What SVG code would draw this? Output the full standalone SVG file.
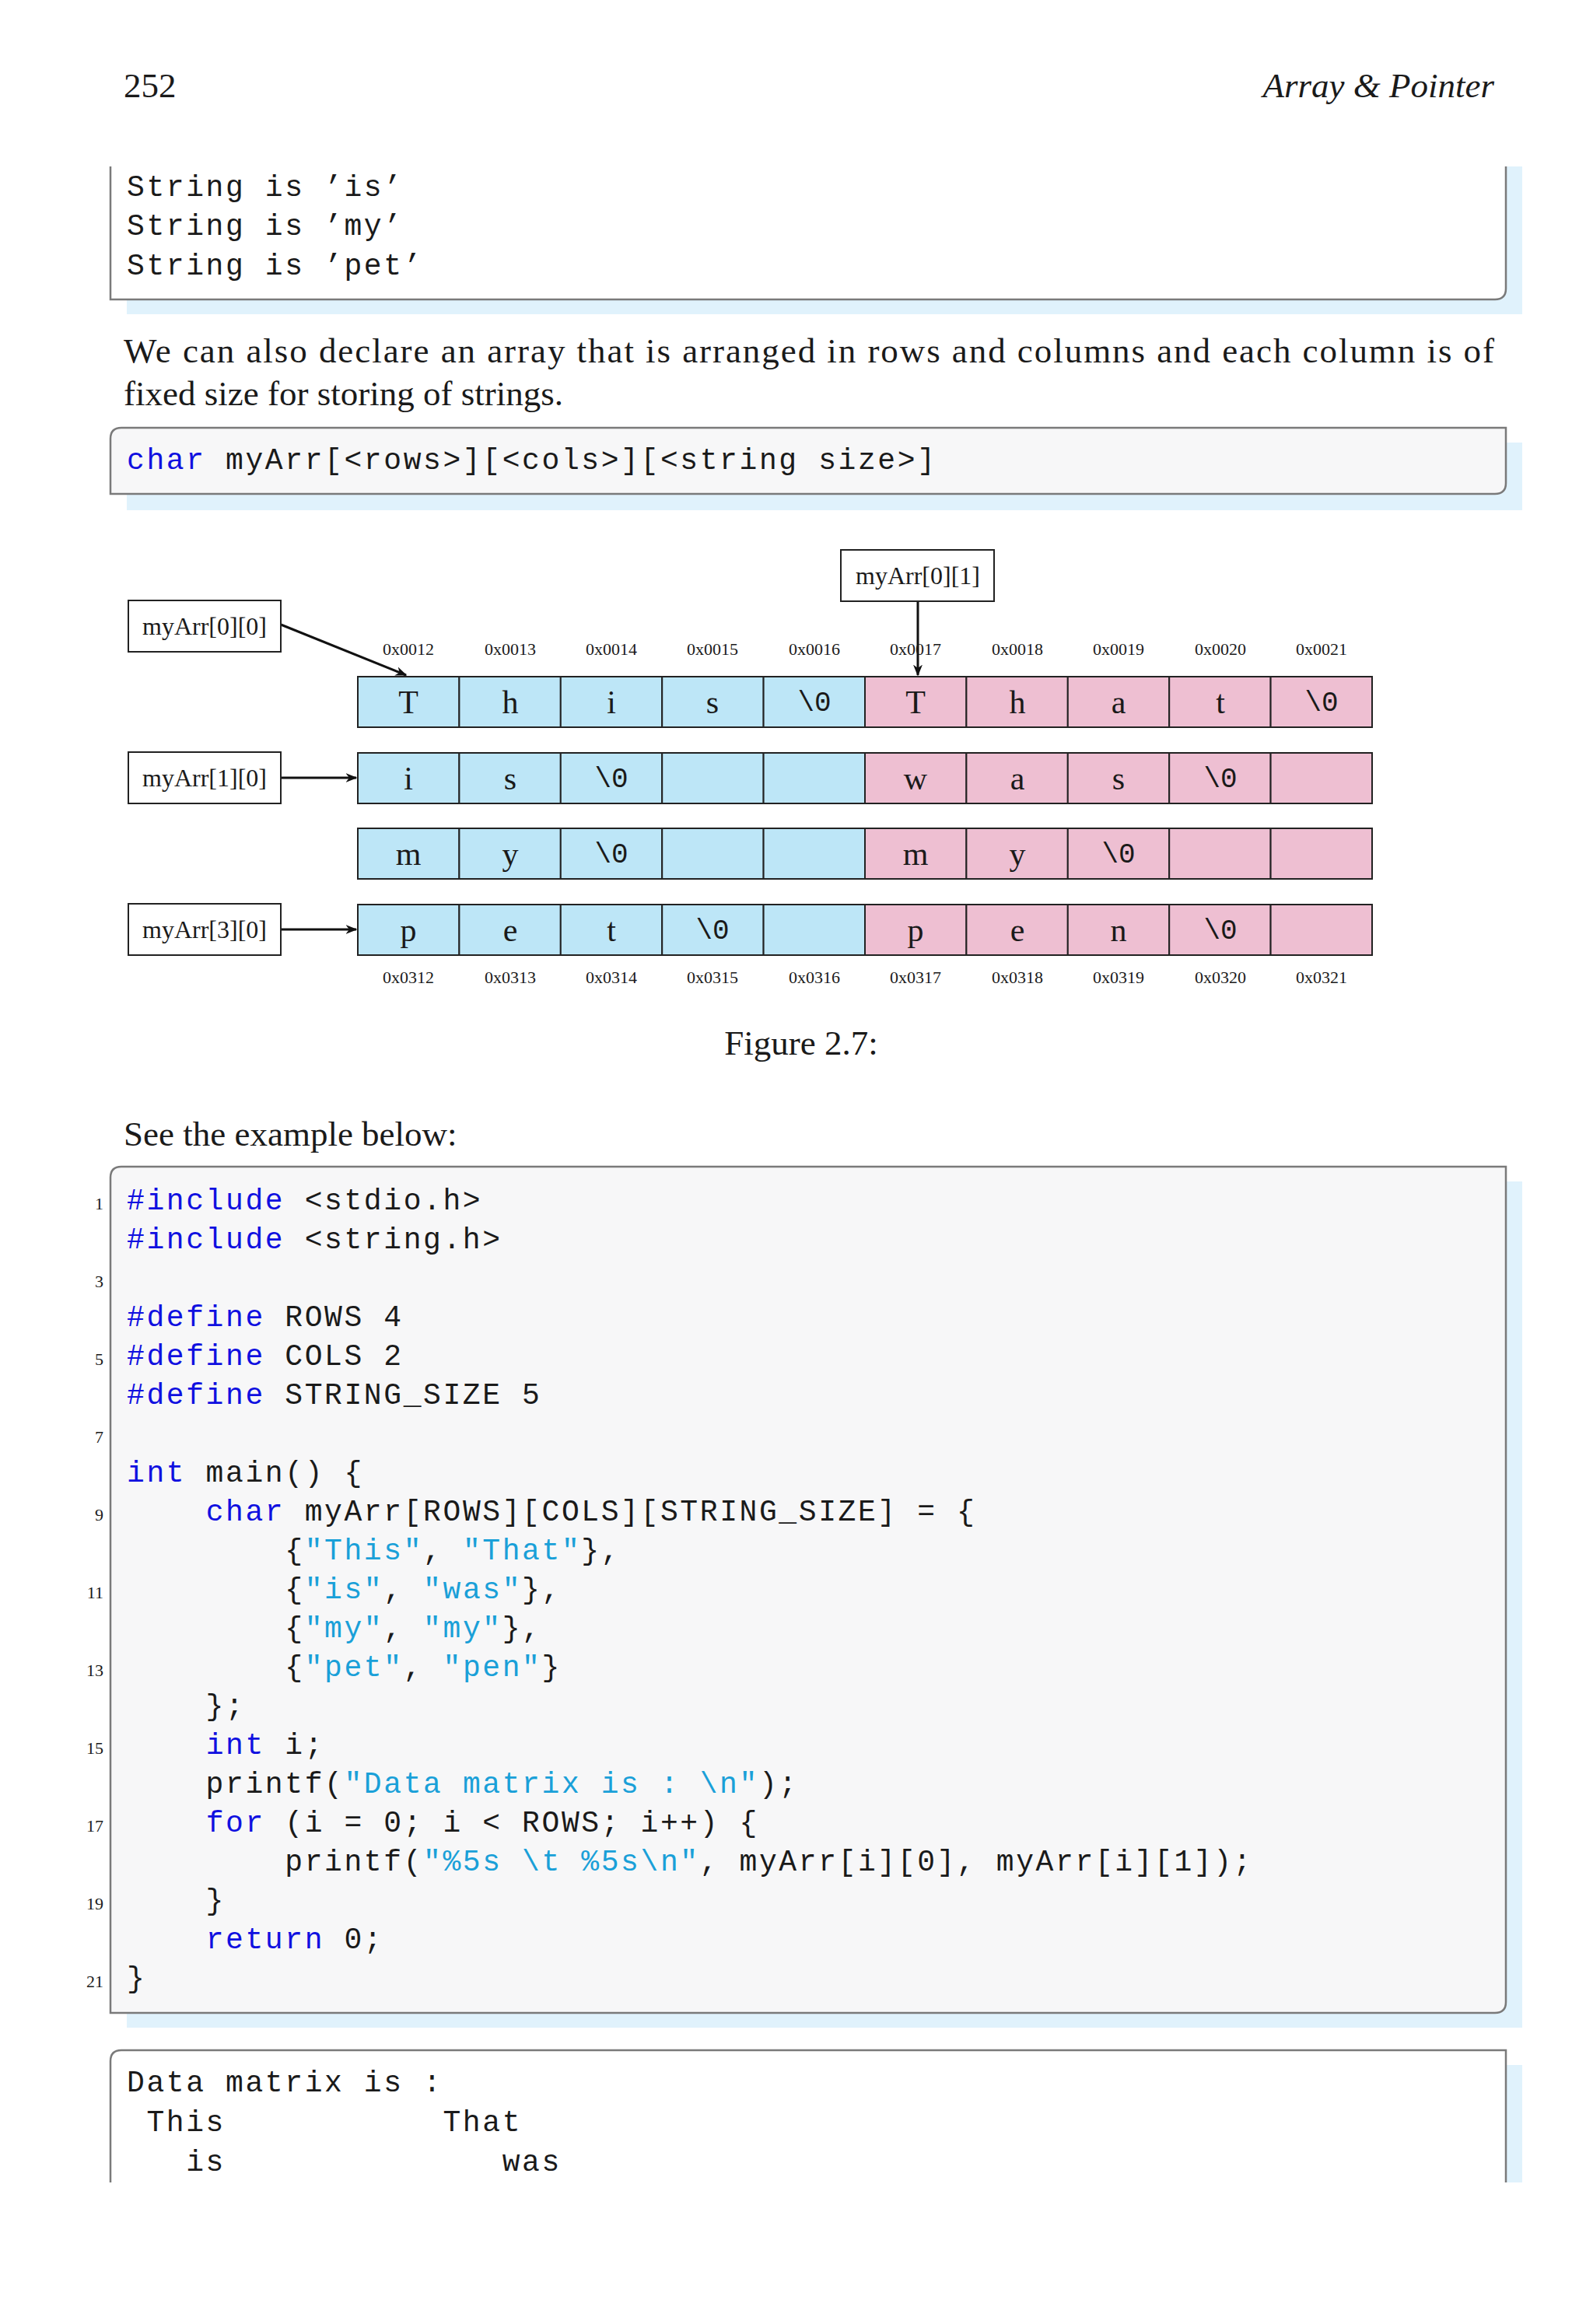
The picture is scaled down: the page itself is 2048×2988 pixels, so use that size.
<svg xmlns="http://www.w3.org/2000/svg" width="2048" height="2988" viewBox="0 0 2048 2988">
<style>
.serif{font-family:"Liberation Serif",serif;fill:#1a1a1a}
.mono{font-family:"Liberation Mono",monospace;font-size:38px;letter-spacing:2.6px;fill:#1a1a1a;white-space:pre}
.kw{fill:#1010e0}
.st{fill:#1aa0d8}
.ln{font-family:"Liberation Serif",serif;font-size:22px;fill:#1a1a1a;text-anchor:end}
.shadow{fill:#e0f2fc}
.box{stroke:#7a7a7a;stroke-width:2.5}
.cb{fill:#bde6f7;stroke:#222;stroke-width:2}
.cp{fill:#eebfd2;stroke:#222;stroke-width:2}
.ch{font-family:"Liberation Serif",serif;font-size:42px;text-anchor:middle;fill:#1a1a1a}
.z{font-family:"Liberation Mono",monospace;font-size:36px;text-anchor:middle;fill:#1a1a1a}
.ad{font-family:"Liberation Serif",serif;font-size:22px;text-anchor:middle;fill:#1a1a1a}
.lb{fill:#fff;stroke:#222;stroke-width:2}
.lt{font-family:"Liberation Serif",serif;font-size:32px;text-anchor:middle;fill:#1a1a1a}
.ar{stroke:#111;stroke-width:3;fill:none;marker-end:url(#ah)}
</style>
<defs>
<marker id="ah" viewBox="0 0 10 10" refX="9" refY="5" markerWidth="5" markerHeight="5" orient="auto" markerUnits="strokeWidth">
<path d="M0,1 L10,5 L0,9 L3,5 Z" fill="#111"/>
</marker>
</defs>
<rect width="2048" height="2988" fill="#fff"/>
<g id="header">
<text class="serif" x="159" y="125" font-size="45">252</text>
<text class="serif" x="1921" y="125" font-size="45" font-style="italic" text-anchor="end">Array &amp; Pointer</text>
</g>
<g id="output1">
<rect class="shadow" x="163" y="214" width="1794" height="190"/>
<path d="M142,214 V385 H1922 Q1936,385 1936,371 V214 Z" fill="#fff"/>
<path class="box" fill="none" d="M142,214 V385 H1922 Q1936,385 1936,371 V214"/>
<text class="mono" x="163" y="252">String is ’is’</text>
<text class="mono" x="163" y="302">String is ’my’</text>
<text class="mono" x="163" y="353">String is ’pet’</text>
</g>
<g id="para">
<text class="serif" x="159" y="466" font-size="45" textLength="1762" lengthAdjust="spacing">We can also declare an array that is arranged in rows and columns and each column is of</text>
<text class="serif" x="159" y="521" font-size="45">fixed size for storing of strings.</text>
</g>
<g id="decl">
<rect class="shadow" x="163" y="569" width="1794" height="87"/>
<path class="box" fill="#f7f7f8" d="M156,550 H1936 V621 Q1936,635 1922,635 H142 V564 Q142,550 156,550 Z"/>
<text class="mono" x="163" y="603"><tspan class="kw">char</tspan> myArr[&lt;rows&gt;][&lt;cols&gt;][&lt;string size&gt;]</text>
</g>
<g id="figure">
<g id="connectors">
<line class="ar" x1="361" y1="803" x2="522" y2="868"/>
<line class="ar" x1="1180" y1="773" x2="1180" y2="868"/>
<line class="ar" x1="361" y1="1000" x2="458" y2="1000"/>
<line class="ar" x1="361" y1="1195" x2="458" y2="1195"/>
</g>
<g id="lab00"><rect class="lb" x="165" y="772" width="196" height="66"/><text class="lt" x="263" y="816">myArr[0][0]</text></g>
<g id="lab01"><rect class="lb" x="1081" y="707" width="197" height="66"/><text class="lt" x="1180" y="751">myArr[0][1]</text></g>
<g id="lab10"><rect class="lb" x="165" y="967" width="196" height="66"/><text class="lt" x="263" y="1011">myArr[1][0]</text></g>
<g id="lab30"><rect class="lb" x="165" y="1162" width="196" height="66"/><text class="lt" x="263" y="1206">myArr[3][0]</text></g>
<g id="addrTop">
<text class="ad" x="525" y="842">0x0012</text><text class="ad" x="656" y="842">0x0013</text><text class="ad" x="786" y="842">0x0014</text><text class="ad" x="916" y="842">0x0015</text><text class="ad" x="1047" y="842">0x0016</text><text class="ad" x="1177" y="842">0x0017</text><text class="ad" x="1308" y="842">0x0018</text><text class="ad" x="1438" y="842">0x0019</text><text class="ad" x="1569" y="842">0x0020</text><text class="ad" x="1699" y="842">0x0021</text>
</g>
<g id="addrBot">
<text class="ad" x="525" y="1264">0x0312</text><text class="ad" x="656" y="1264">0x0313</text><text class="ad" x="786" y="1264">0x0314</text><text class="ad" x="916" y="1264">0x0315</text><text class="ad" x="1047" y="1264">0x0316</text><text class="ad" x="1177" y="1264">0x0317</text><text class="ad" x="1308" y="1264">0x0318</text><text class="ad" x="1438" y="1264">0x0319</text><text class="ad" x="1569" y="1264">0x0320</text><text class="ad" x="1699" y="1264">0x0321</text>
</g>
<g id="row0">
<rect class="cb" x="460" y="870" width="130.4" height="65"/><rect class="cb" x="590.4" y="870" width="130.4" height="65"/><rect class="cb" x="720.8" y="870" width="130.4" height="65"/><rect class="cb" x="851.2" y="870" width="130.4" height="65"/><rect class="cb" x="981.6" y="870" width="130.4" height="65"/>
<rect class="cp" x="1112" y="870" width="130.4" height="65"/><rect class="cp" x="1242.4" y="870" width="130.4" height="65"/><rect class="cp" x="1372.8" y="870" width="130.4" height="65"/><rect class="cp" x="1503.2" y="870" width="130.4" height="65"/><rect class="cp" x="1633.6" y="870" width="130.4" height="65"/>
<text class="ch" x="525" y="917">T</text><text class="ch" x="656" y="917">h</text><text class="ch" x="786" y="917">i</text><text class="ch" x="916" y="917">s</text><text class="z" x="1047" y="914">\0</text>
<text class="ch" x="1177" y="917">T</text><text class="ch" x="1308" y="917">h</text><text class="ch" x="1438" y="917">a</text><text class="ch" x="1569" y="917">t</text><text class="z" x="1699" y="914">\0</text>
</g>
<g id="row1">
<rect class="cb" x="460" y="968" width="130.4" height="65"/><rect class="cb" x="590.4" y="968" width="130.4" height="65"/><rect class="cb" x="720.8" y="968" width="130.4" height="65"/><rect class="cb" x="851.2" y="968" width="130.4" height="65"/><rect class="cb" x="981.6" y="968" width="130.4" height="65"/>
<rect class="cp" x="1112" y="968" width="130.4" height="65"/><rect class="cp" x="1242.4" y="968" width="130.4" height="65"/><rect class="cp" x="1372.8" y="968" width="130.4" height="65"/><rect class="cp" x="1503.2" y="968" width="130.4" height="65"/><rect class="cp" x="1633.6" y="968" width="130.4" height="65"/>
<text class="ch" x="525" y="1015">i</text><text class="ch" x="656" y="1015">s</text><text class="z" x="786" y="1012">\0</text>
<text class="ch" x="1177" y="1015">w</text><text class="ch" x="1308" y="1015">a</text><text class="ch" x="1438" y="1015">s</text><text class="z" x="1569" y="1012">\0</text>
</g>
<g id="row2">
<rect class="cb" x="460" y="1065" width="130.4" height="65"/><rect class="cb" x="590.4" y="1065" width="130.4" height="65"/><rect class="cb" x="720.8" y="1065" width="130.4" height="65"/><rect class="cb" x="851.2" y="1065" width="130.4" height="65"/><rect class="cb" x="981.6" y="1065" width="130.4" height="65"/>
<rect class="cp" x="1112" y="1065" width="130.4" height="65"/><rect class="cp" x="1242.4" y="1065" width="130.4" height="65"/><rect class="cp" x="1372.8" y="1065" width="130.4" height="65"/><rect class="cp" x="1503.2" y="1065" width="130.4" height="65"/><rect class="cp" x="1633.6" y="1065" width="130.4" height="65"/>
<text class="ch" x="525" y="1112">m</text><text class="ch" x="656" y="1112">y</text><text class="z" x="786" y="1109">\0</text>
<text class="ch" x="1177" y="1112">m</text><text class="ch" x="1308" y="1112">y</text><text class="z" x="1438" y="1109">\0</text>
</g>
<g id="row3">
<rect class="cb" x="460" y="1163" width="130.4" height="65"/><rect class="cb" x="590.4" y="1163" width="130.4" height="65"/><rect class="cb" x="720.8" y="1163" width="130.4" height="65"/><rect class="cb" x="851.2" y="1163" width="130.4" height="65"/><rect class="cb" x="981.6" y="1163" width="130.4" height="65"/>
<rect class="cp" x="1112" y="1163" width="130.4" height="65"/><rect class="cp" x="1242.4" y="1163" width="130.4" height="65"/><rect class="cp" x="1372.8" y="1163" width="130.4" height="65"/><rect class="cp" x="1503.2" y="1163" width="130.4" height="65"/><rect class="cp" x="1633.6" y="1163" width="130.4" height="65"/>
<text class="ch" x="525" y="1210">p</text><text class="ch" x="656" y="1210">e</text><text class="ch" x="786" y="1210">t</text><text class="z" x="916" y="1207">\0</text>
<text class="ch" x="1177" y="1210">p</text><text class="ch" x="1308" y="1210">e</text><text class="ch" x="1438" y="1210">n</text><text class="z" x="1569" y="1207">\0</text>
</g>
<text class="serif" x="1030" y="1356" font-size="45" text-anchor="middle">Figure 2.7:</text>
</g>
<text class="serif" x="159" y="1473" font-size="45">See the example below:</text>
<g id="code">
<rect class="shadow" x="163" y="1519" width="1794" height="1088"/>
<path class="box" fill="#f7f7f8" d="M156,1500 H1936 V2574 Q1936,2588 1922,2588 H142 V1514 Q142,1500 156,1500 Z"/>
<text class="ln" x="133" y="1555">1</text><text class="ln" x="133" y="1655">3</text><text class="ln" x="133" y="1755">5</text><text class="ln" x="133" y="1855">7</text><text class="ln" x="133" y="1955">9</text><text class="ln" x="133" y="2055">11</text><text class="ln" x="133" y="2155">13</text><text class="ln" x="133" y="2255">15</text><text class="ln" x="133" y="2355">17</text><text class="ln" x="133" y="2455">19</text><text class="ln" x="133" y="2555">21</text>
<text class="mono" x="163" y="1555"><tspan class="kw">#include</tspan> &lt;stdio.h&gt;</text>
<text class="mono" x="163" y="1605"><tspan class="kw">#include</tspan> &lt;string.h&gt;</text>
<text class="mono" x="163" y="1705"><tspan class="kw">#define</tspan> ROWS 4</text>
<text class="mono" x="163" y="1755"><tspan class="kw">#define</tspan> COLS 2</text>
<text class="mono" x="163" y="1805"><tspan class="kw">#define</tspan> STRING_SIZE 5</text>
<text class="mono" x="163" y="1905"><tspan class="kw">int</tspan> main() {</text>
<text class="mono" x="163" y="1955">    <tspan class="kw">char</tspan> myArr[ROWS][COLS][STRING_SIZE] = {</text>
<text class="mono" x="163" y="2005">        {<tspan class="st">"This"</tspan>, <tspan class="st">"That"</tspan>},</text>
<text class="mono" x="163" y="2055">        {<tspan class="st">"is"</tspan>, <tspan class="st">"was"</tspan>},</text>
<text class="mono" x="163" y="2105">        {<tspan class="st">"my"</tspan>, <tspan class="st">"my"</tspan>},</text>
<text class="mono" x="163" y="2155">        {<tspan class="st">"pet"</tspan>, <tspan class="st">"pen"</tspan>}</text>
<text class="mono" x="163" y="2205">    };</text>
<text class="mono" x="163" y="2255">    <tspan class="kw">int</tspan> i;</text>
<text class="mono" x="163" y="2305">    printf(<tspan class="st">"Data matrix is : \n"</tspan>);</text>
<text class="mono" x="163" y="2355">    <tspan class="kw">for</tspan> (i = 0; i &lt; ROWS; i++) {</text>
<text class="mono" x="163" y="2405">        printf(<tspan class="st">"%5s \t %5s\n"</tspan>, myArr[i][0], myArr[i][1]);</text>
<text class="mono" x="163" y="2455">    }</text>
<text class="mono" x="163" y="2505">    <tspan class="kw">return</tspan> 0;</text>
<text class="mono" x="163" y="2555">}</text>
</g>
<g id="output2">
<rect class="shadow" x="163" y="2655" width="1794" height="151"/>
<path fill="#fff" d="M142,2806 V2650 Q142,2636 156,2636 H1936 V2806 Z"/>
<path class="box" fill="none" d="M142,2806 V2650 Q142,2636 156,2636 H1936 V2806"/>
<text class="mono" x="163" y="2689">Data matrix is :</text>
<text class="mono" x="163" y="2740"> This           That</text>
<text class="mono" x="163" y="2791">   is              was</text>
</g>
</svg>
